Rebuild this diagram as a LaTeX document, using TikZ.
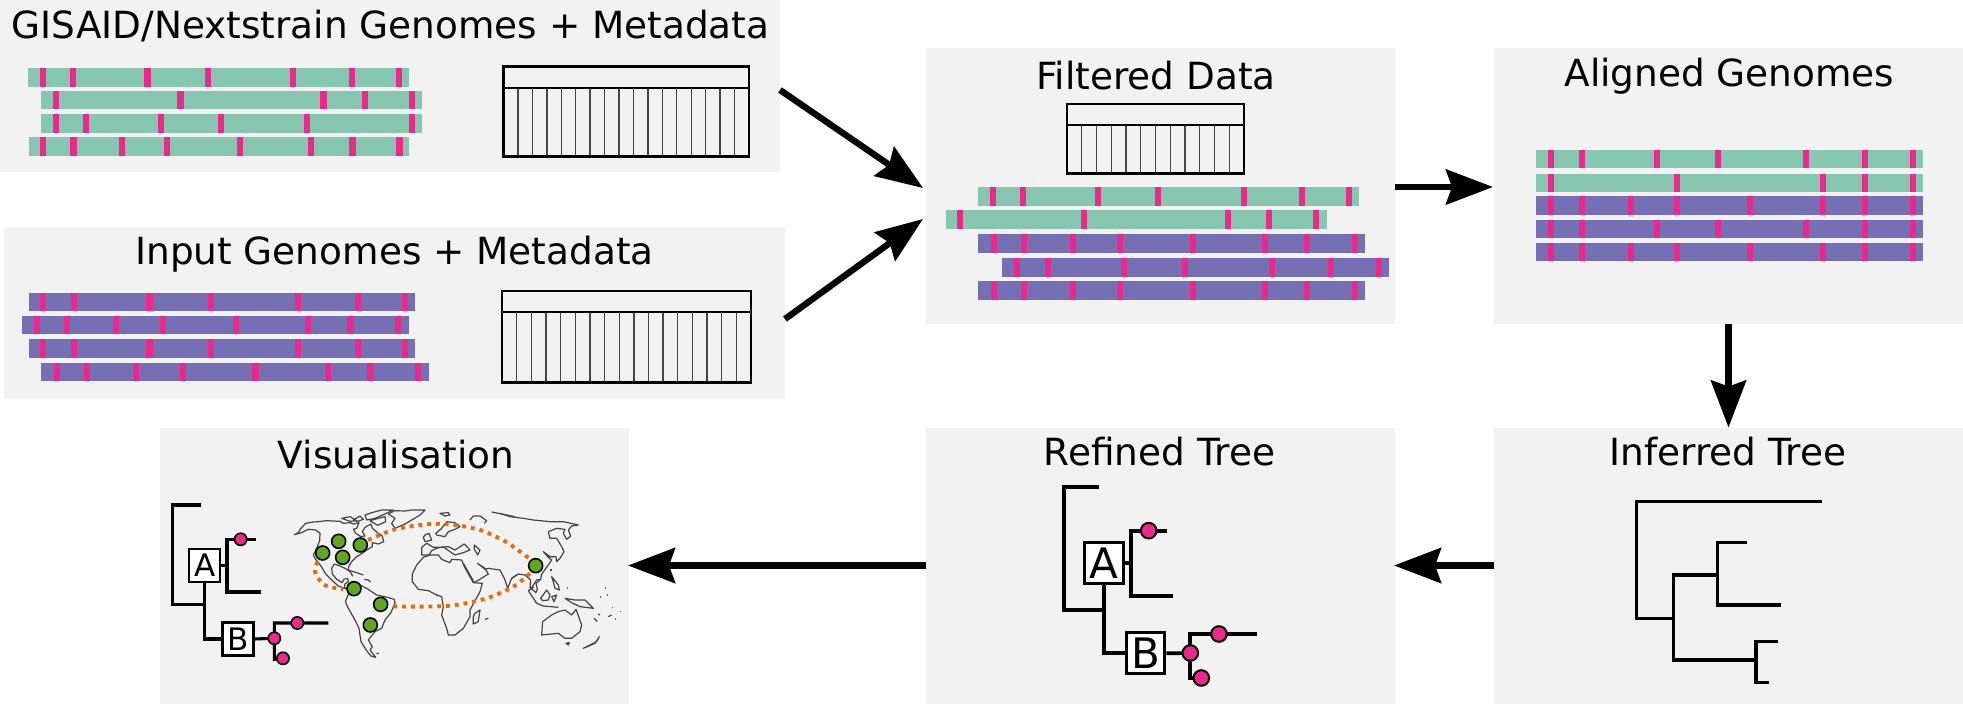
\documentclass[tikz,border=0pt]{standalone}
\usepackage{fontspec}
\setmainfont{DejaVu Sans}
\usetikzlibrary{arrows.meta}
\definecolor{panelgray}{HTML}{F2F2F2}
\definecolor{gbar}{HTML}{87C7B1}
\definecolor{pbar}{HTML}{7570B3}
\definecolor{pinkm}{HTML}{E92A8B}
\definecolor{gdot}{HTML}{62A51E}
\definecolor{odot}{HTML}{E26D17}
\definecolor{mapc}{HTML}{444444}
\tikzset{
  panel/.style={anchor=north west,fill=panelgray,inner sep=0pt,outer sep=0pt,minimum width=#1},
  paneltitle/.style={anchor=base,inner sep=0pt,font=\fontsize{37.4}{40}\selectfont},
  flow/.style={line width=6.4pt,-{Stealth[length=47pt,width=35pt,inset=6pt]}},
  tabout/.style={line width=2.9pt,black},
  tabin/.style={line width=1.4pt,black!72},
  treeline/.style={line width=#1,black},
  bigbox/.style={draw=black,fill=white,line width=3pt,inner sep=0pt,minimum width=38.5pt,minimum height=41pt,font=\fontsize{42}{44}\selectfont},
  smallbox/.style={draw=black,fill=white,line width=2.5pt,inner sep=0pt,minimum width=31pt,minimum height=33pt,font=\fontsize{31}{33}\selectfont},
  bigdot/.style={circle,draw=black,fill=pinkm,line width=2pt,inner sep=0pt,minimum size=15.6pt},
  smalldot/.style={circle,draw=black,fill=pinkm,line width=1.6pt,inner sep=0pt,minimum size=12.2pt},
  mapdot/.style={circle,draw=black,fill=gdot,line width=1.6pt,inner sep=0pt,minimum size=14pt},
  coast/.style={draw=mapc,line width=1.2pt,line join=round},
  route/.style={draw=odot,line width=3.9pt,dash pattern=on 3.9pt off 4.9pt},
}
\newcommand{\genomebar}[6]{%
  \fill[#5] (#1,#3) rectangle (#2,#4);
  \foreach \mm in {#6}{\fill[pinkm] (\mm-\markw,#3) rectangle (\mm+\markw,#4);}
}
\newcommand{\datatable}[6]{%
  \foreach \kk in {1,...,#6}{\draw[tabin] ({#1+\kk*(#2-#1)/(#6+1)},#5) -- ({#1+\kk*(#2-#1)/(#6+1)},#4);}
  \draw[line width=2.1pt] (#1,#5) -- (#2,#5);
  \draw[tabout] (#1,#3) rectangle (#2,#4);
}
\begin{document}
\begin{tikzpicture}[x=1pt,y=-1pt]
\useasboundingbox (0,0) rectangle (1963,704);
% panels
\node[panel=780pt,minimum height=172pt] (p1) at (0,0) {};
\node[panel=781pt,minimum height=172pt] (p2) at (4,227) {};
\node[panel=469pt,minimum height=276pt] (p3) at (926,48) {};
\node[panel=469pt,minimum height=276pt] (p4) at (1494,48) {};
\node[panel=469pt,minimum height=276pt] (p5) at (926,427.5) {};
\node[panel=469pt,minimum height=276pt] (p6) at (1494,427.5) {};
\node[panel=469pt,minimum height=276pt] (p7) at (160,427.5) {};
% titles
\node[paneltitle] (t1) at (390.5,38) {GISAID/Nextstrain Genomes + Metadata};
\node[paneltitle] (t2) at (394.5,264) {Input Genomes + Metadata};
\node[paneltitle] (t3) at (1156,89) {Filtered Data};
\node[paneltitle] (t4) at (1729.5,86) {Aligned Genomes};
\node[paneltitle] (t5) at (1159.5,465.5) {Refined Tree};
\node[paneltitle] (t6) at (1728,465.5) {Inferred Tree};
\node[paneltitle] (t7) at (396,468) {Visualisation};
% arrows
\draw[flow] ([yshift=-4pt]p1.east) -- ([xshift=-3pt,yshift=-2pt]p3.west);
\draw[flow] ([yshift=-6pt]p2.east) -- ([xshift=-3pt,yshift=-33pt]p3.west);
\draw[flow] ([yshift=-1pt]p3.east) -- ([xshift=-1pt,yshift=-1pt]p4.west);
\draw[flow] (p4.south) -- (p6.north);
\draw[flow] (p6.west) -- ([xshift=-1pt]p5.east);
\draw[flow] (p5.west) -- ([xshift=-1pt]p7.east);
% panel 1
\begin{scope}[shift={(0,0)},x=0.5102pt,y=-0.3333pt]
\def\markw{6.1}
\genomebar{55}{802}{205}{260}{gbar}{84,143,289,407,575,690,782}
\genomebar{81}{827}{273}{328}{gbar}{110,354,634,716,808}
\genomebar{81}{827}{343}{398}{gbar}{110,168,315,433,601,808}
\genomebar{56}{802}{412}{467}{gbar}{85,144,239,328,470,609,691,783}
\datatable{987}{1468}{200}{470}{263}{16}
\end{scope}
% panel 2
\begin{scope}[shift={(0,220)},x=0.5102pt,y=-0.3333pt]
\def\markw{6.1}
\genomebar{56}{814}{218}{273}{pbar}{85,145,293,413,584,701,794}
\genomebar{43}{801}{288}{343}{pbar}{72,131,228,319,462,604,687,780}
\genomebar{56}{814}{358}{413}{pbar}{85,145,293,413,584,701,794}
\genomebar{81}{840}{429}{484}{pbar}{111,171,267,358,501,643,726,819}
\datatable{984}{1472}{213}{488}{276}{16}
\end{scope}
% filtered
\begin{scope}[shift={(920,40)},x=0.3333pt,y=-0.3333pt,tabout/.append style={line width=2.4pt}]
\def\markw{9}
\datatable{441}{972}{192}{401}{256}{11}
\genomebar{175}{1317}{441}{497}{gbar}{219,309,533,713,971,1146,1287}
\genomebar{77}{1220}{510}{566}{gbar}{121,493,923,1048,1189}
\genomebar{175}{1336}{583}{639}{pbar}{221,312,459,599,818,1035,1162,1305}
\genomebar{247}{1407}{654}{710}{pbar}{292,384,611,794,1056,1234,1377}
\genomebar{175}{1336}{724}{780}{pbar}{221,312,459,599,818,1035,1162,1305}
\end{scope}
% aligned
\begin{scope}[shift={(1480,40)},x=0.3333pt,y=-0.3333pt]
\def\markw{9}
\genomebar{168}{1329}{330}{385}{gbar}{213,305,532,715,978,1155,1298}
\genomebar{168}{1329}{401}{456}{gbar}{213,592,1028,1155,1298}
\genomebar{168}{1329}{468}{524}{pbar}{213,305,453,592,811,1028,1155,1298}
\genomebar{168}{1329}{539}{594}{pbar}{213,305,532,715,978,1155,1298}
\genomebar{168}{1329}{609}{664}{pbar}{213,305,453,592,811,1028,1155,1298}
\end{scope}
% inferred tree
\begin{scope}[shift={(1600,480)},x=0.3333pt,y=-0.3333pt]
\draw[treeline=3.4pt] (665,65) -- (109,65) -- (109,416) -- (221,416);
\draw[treeline=3.4pt] (352,285) -- (221,285) -- (221,540) -- (468,540);
\draw[treeline=3.4pt] (442,188) -- (352,188) -- (352,375) -- (542,375);
\draw[treeline=3.4pt] (533,484) -- (468,484) -- (468,608) -- (506,608);
\end{scope}
% refined tree
\begin{scope}[shift={(1030,470)},x=0.3333pt,y=-0.3333pt]
\node[bigbox] (ra) at (222,279) {A};
\node[bigbox] (rb) at (347,550) {B};
\coordinate (rd1) at (356,182);
\coordinate (rd2) at (567,492);
\coordinate (rd3) at (481,549);
\coordinate (rd4) at (514,624);
\draw[treeline=3.7pt] (207,52) -- (103,52) -- (103,421) -- (220,421);
\draw[treeline=3.7pt] (ra.south) -- (ra.south |- rb.west) -- (rb.west);
\draw[treeline=3.7pt] (ra.east) -- (304,279);
\draw[treeline=3.7pt] (412,182) -- (304,182) -- (304,378) -- (430,378);
\draw[treeline=3.7pt] (rb.east) -- (rd3);
\draw[treeline=3.7pt] (681,492) -- (481,492) -- (481,624) -- (rd4);
\node[bigdot] (rn1) at (rd1) {};
\node[bigdot] (rn2) at (rd2) {};
\node[bigdot] (rn3) at (rd3) {};
\node[bigdot] (rn4) at (rd4) {};
\end{scope}
% visualisation tree
\begin{scope}[shift={(150,425)},x=0.3333pt,y=-0.3333pt]
\node[smallbox] (va) at (164,421) {A};
\node[smallbox] (vb) at (264,642) {B};
\coordinate (vd1) at (272,343);
\coordinate (vd2) at (442,594);
\coordinate (vd3) at (373,640);
\coordinate (vd4) at (399,700);
\draw[treeline=3.1pt] (152,240) -- (67,240) -- (67,538) -- (162,538);
\draw[treeline=3.1pt] (va.south) -- (va.south |- vb.west) -- (vb.west);
\draw[treeline=3.1pt] (va.east) -- (231,421);
\draw[treeline=3.1pt] (318,343) -- (231,343) -- (231,501) -- (332,501);
\draw[treeline=3.1pt] (vb.east) -- (vd3);
\draw[treeline=3.1pt] (535,594) -- (373,594) -- (373,703) -- (vd4);
\node[smalldot] (vn1) at (vd1) {};
\node[smalldot] (vn2) at (vd2) {};
\node[smalldot] (vn3) at (vd3) {};
\node[smalldot] (vn4) at (vd4) {};
\end{scope}
% map: Americas
\begin{scope}[shift={(285,500)},x=0.3333pt,y=-0.3333pt]
\draw[coast] (28,104) -- (40,98) -- (48,85) -- (62,70) -- (85,66) -- (100,65) -- (125,62) -- (165,64) -- (175,70) -- (195,68) -- (205,72) -- (222,68) -- (215,85) -- (205,88) -- (212,100) -- (228,110) -- (240,108) -- (232,95) -- (240,82) -- (258,72) -- (262,85) -- (280,100) -- (292,108) -- (296,125) -- (280,132) -- (262,128) -- (262,140) -- (245,150) -- (232,160) -- (215,170) -- (200,185) -- (192,198) -- (190,208) -- (200,222) -- (203,228) -- (195,215) -- (180,205) -- (165,198) -- (148,192) -- (140,205) -- (142,222) -- (155,238) -- (172,248) -- (176,238) -- (188,235) -- (190,245) -- (180,252) -- (178,262) -- (192,270) -- (160,258) -- (140,240) -- (122,222) -- (108,198) -- (92,178) -- (85,165) -- (95,145) -- (104,122) -- (105,100) -- (92,90) -- (70,88) -- (50,98) -- cycle;
\draw[coast] (170,55) -- (195,50) -- (215,62) -- (195,64) -- cycle;
\draw[coast] (240,45) -- (260,38) -- (290,30) -- (325,30) -- (300,42) -- (270,55) -- (245,60) -- cycle;
\draw[coast] (255,62) -- (280,55) -- (300,50) -- (302,65) -- (278,76) -- cycle;
\draw[coast] (205,60) -- (225,48) -- (235,58) -- (218,64) -- cycle;
\draw[coast] (182,302) -- (195,272) -- (225,255) -- (250,268) -- (275,285) -- (300,290) -- (328,298) -- (330,308) -- (318,338) -- (300,360) -- (290,385) -- (270,395) -- (250,420) -- (262,440) -- (255,450) -- (272,472) -- (258,468) -- (245,452) -- (228,425) -- (222,385) -- (210,360) -- (190,325) -- (183,310) -- cycle;
\draw[coast] (195,212) -- (215,218) -- (235,225);
\draw[coast] (238,238) -- (250,240) -- (256,246);
\draw[coast] (274,461) -- (282,460);
\end{scope}
% map: Greenland, Europe, Africa
\begin{scope}[shift={(405,500)},x=0.3333pt,y=-0.3333pt]
\draw[coast] (-50,42) -- (-30,32) -- (0,33) -- (20,30) -- (60,30) -- (45,45) -- (20,60) -- (0,72) -- (-30,85) -- (-40,70) -- (-30,55) -- cycle;
\draw[coast] (105,40) -- (130,38) -- (135,45) -- (120,48) -- cycle;
\draw[coast] (60,105) -- (72,100) -- (80,120) -- (60,125) -- (55,112) -- cycle;
\draw[coast] (92,100) -- (110,85) -- (125,65) -- (150,68) -- (165,80) -- (150,88) -- (130,95) -- (120,110) -- (95,105) -- cycle;
\draw[coast] (50,142) -- (50,165) -- (72,165) -- (80,152) -- (95,145) -- (115,140) -- (135,155) -- (150,165) -- (175,158) -- (195,150) -- (178,132) -- (150,150) -- (130,140) -- (108,142) -- (85,142) -- (65,130) -- cycle;
\draw[coast] (55,172) -- (35,195) -- (22,222) -- (22,245) -- (40,268) -- (70,272) -- (95,285) -- (110,290) -- (115,320) -- (110,345) -- (125,385) -- (130,405) -- (150,405) -- (175,385) -- (195,350) -- (195,330) -- (225,275) -- (232,250) -- (205,248) -- (195,230) -- (178,200) -- (170,180) -- (140,178) -- (135,188) -- (110,178) -- (100,165) -- (75,165) -- cycle;
\draw[coast] (175,190) -- (208,248) -- (250,222) -- (240,205) -- (218,190) -- (240,208) -- (250,205) -- (285,210) -- (298,235) -- (308,265) -- (320,235) -- (335,225);
\draw[coast] (208,135) -- (225,150) -- (218,165) -- (208,148) -- cycle;
\draw[coast] (210,340) -- (225,330) -- (220,365) -- (205,372) -- (205,350) -- cycle;
\draw[coast] (195,60) -- (205,48) -- (225,48) -- (245,62) -- (238,70);
\draw[coast] (260,36) -- (290,42) -- (330,50);
\draw[coast] (240,358) -- (250,355);
\draw[coast] (95,285) -- (99,288);
\end{scope}
% map: Asia, Australia
\begin{scope}[shift={(500,500)},x=0.3333pt,y=-0.3333pt]
\draw[coast] (0,40) -- (30,50) -- (70,55) -- (100,60) -- (150,65) -- (190,65) -- (235,75) -- (215,78) -- (205,90) -- (212,108) -- (200,118) -- (190,100) -- (195,88) -- (170,85) -- (145,95) -- (150,115) -- (170,115) -- (185,140) -- (192,155) -- (180,175) -- (170,185) -- (168,170) -- (150,170) -- (130,155) -- (145,172) -- (155,180) -- (145,195) -- (125,222) -- (122,238) -- (110,240) -- (100,255) -- (90,270) -- (100,262) -- (85,272) -- (110,310) -- (130,318) -- (175,322);
\draw[coast] (35,235) -- (55,222) -- (75,225) -- (92,240) -- (90,262) -- (108,278) -- (112,268) -- (108,250) -- (120,240);
\draw[coast] (155,230) -- (175,255) -- (178,270) -- (165,265) -- (160,245) -- cycle;
\draw[coast] (122,295) -- (140,270) -- (150,285) -- (145,300) -- (128,302) -- cycle;
\draw[coast] (155,290) -- (170,285) -- (162,305) -- cycle;
\draw[coast] (195,295) -- (225,300) -- (255,300) -- (280,325) -- (240,320) -- (215,308) -- cycle;
\draw[coast] (128,365) -- (155,345) -- (175,335) -- (195,330) -- (215,345) -- (228,328) -- (245,375) -- (240,395) -- (215,415) -- (195,415) -- (175,400) -- (125,405) -- cycle;
\draw[coast] (198,430) -- (208,428) -- (205,435) -- cycle;
\draw[coast] (250,445) -- (290,425) -- (298,410) -- (285,430) -- cycle;
\draw[coast] (282,355) -- (292,365);
\draw[coast] (295,342) -- (300,345);
\draw[coast] (325,350) -- (335,345);
\draw[coast,black!60] (200,264) -- (203,264);
\draw[coast,black!60] (316,264) -- (319,264);
\draw[coast,black!60] (301,291) -- (304,291);
\draw[coast,black!60] (321,285) -- (324,285);
\draw[coast,black!60] (335,322) -- (338,322);
\draw[coast,black!60] (359,335) -- (362,335);
\draw[coast,black!60] (345,357) -- (348,357);
\draw[coast] (153,208) -- (153,212);
\end{scope}
% map routes and dots
\begin{scope}[shift={(280,490)},x=0.3333pt,y=-0.3333pt]
\draw[route] plot[smooth] coordinates {(264,150) (345,118) (440,103) (510,103) (600,120) (680,157) (750,207)};
\draw[route] plot[smooth] coordinates {(750,250) (700,290) (620,325) (520,346) (420,350) (340,349)};
\draw[route] plot[smooth] coordinates {(112,215) (105,243) (116,267) (140,288) (190,298)};
\node[mapdot] (m1) at (128,189) {};
\node[mapdot] (m2) at (176,154) {};
\node[mapdot] (m3) at (188,202) {};
\node[mapdot] (m4) at (241,165) {};
\node[mapdot] (m5) at (222,296) {};
\node[mapdot] (m6) at (302,343) {};
\node[mapdot] (m7) at (271,405) {};
\node[mapdot] (m8) at (767,227) {};
\end{scope}
\end{tikzpicture}
\end{document}
